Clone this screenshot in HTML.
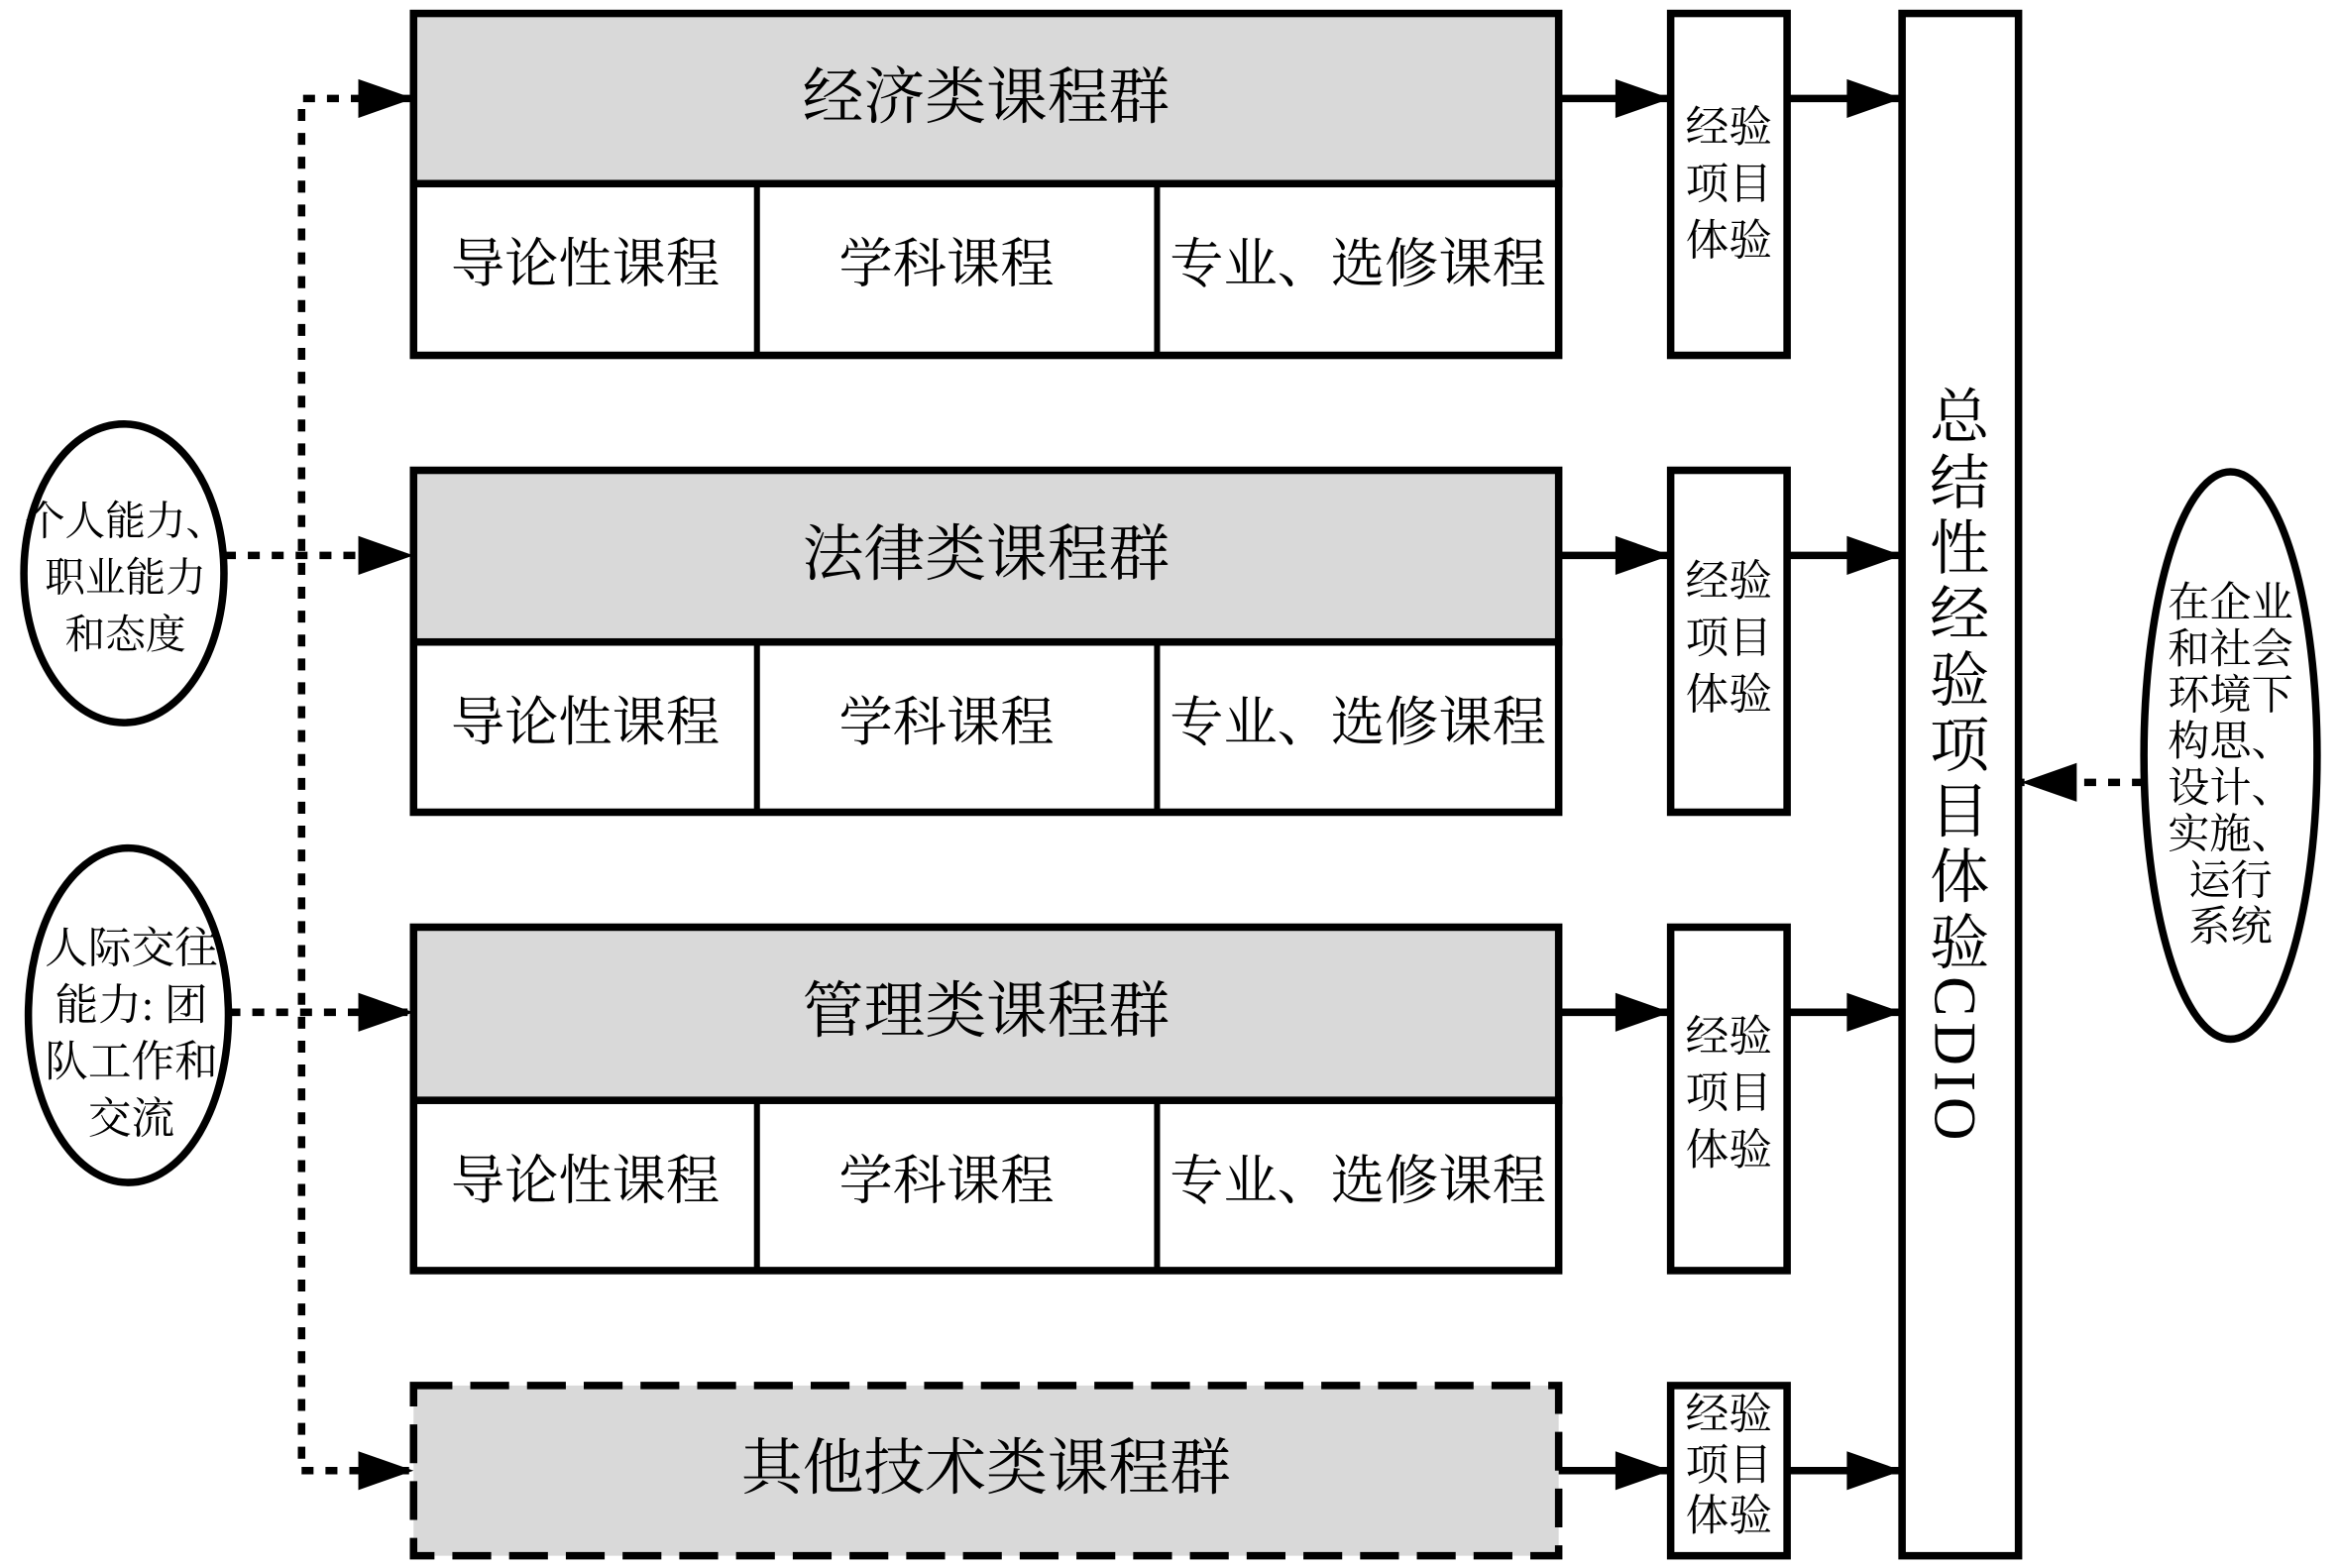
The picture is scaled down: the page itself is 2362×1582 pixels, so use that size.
<!DOCTYPE html>
<html><head><meta charset="utf-8"><style>
html,body{margin:0;padding:0;background:#fff;width:2362px;height:1582px;overflow:hidden}
#w{position:absolute;left:0;top:0;width:1568px;height:1050px;transform:scale(1.50638);transform-origin:0 0;font-family:"Liberation Serif","Noto Serif CJK SC",serif;color:#000}
svg{position:absolute;left:0;top:0}
.t{position:absolute;text-align:center;white-space:nowrap;line-height:1}
</style></head><body><div id="w">
<svg width="1568" height="1050" viewBox="0 0 1568 1050">
<defs><marker id="a" markerWidth="10" markerHeight="10" refX="9" refY="5" orient="auto" markerUnits="userSpaceOnUse" viewBox="0 0 10 10"><path d="M0,0L10,5L0,10z"/></marker></defs>
<g fill="none" stroke="#000" stroke-width="5">
<rect x="277" y="9" width="767" height="114" fill="#d9d9d9"/>
<rect x="277" y="123" width="767" height="115" fill="#fff"/>
<line x1="507" y1="123" x2="507" y2="238" stroke-width="4"/><line x1="775" y1="123" x2="775" y2="238" stroke-width="4"/>
<rect x="277" y="315" width="767" height="115" fill="#d9d9d9"/>
<rect x="277" y="430" width="767" height="114" fill="#fff"/>
<line x1="507" y1="430" x2="507" y2="544" stroke-width="4"/><line x1="775" y1="430" x2="775" y2="544" stroke-width="4"/>
<rect x="277" y="621" width="767" height="116" fill="#d9d9d9"/>
<rect x="277" y="737" width="767" height="114" fill="#fff"/>
<line x1="507" y1="737" x2="507" y2="851" stroke-width="4"/><line x1="775" y1="737" x2="775" y2="851" stroke-width="4"/>
<rect x="277" y="928" width="767" height="114" fill="#d9d9d9" stroke-dasharray="26,12"/>
<rect x="1119" y="9" width="78" height="229" fill="#fff"/>
<rect x="1119" y="315" width="78" height="229" fill="#fff"/>
<rect x="1119" y="621" width="78" height="230" fill="#fff"/>
<rect x="1119" y="928" width="78" height="114" fill="#fff"/>
<rect x="1274" y="9" width="78" height="1033" fill="#fff"/>
<ellipse cx="83" cy="384" rx="67" ry="100" fill="#fff"/>
<ellipse cx="86" cy="680" rx="67" ry="112" fill="#fff"/>
<ellipse cx="1494" cy="506" rx="58" ry="190" fill="#fff"/>
</g>
<g stroke="#000" stroke-width="5" fill="none">
<line x1="1044" y1="66" x2="1117" y2="66"/>
<line x1="1044" y1="372" x2="1117" y2="372"/>
<line x1="1044" y1="678" x2="1117" y2="678"/>
<line x1="1044" y1="985" x2="1117" y2="985"/>
<line x1="1197" y1="66" x2="1272" y2="66"/>
<line x1="1197" y1="372" x2="1272" y2="372"/>
<line x1="1197" y1="678" x2="1272" y2="678"/>
<line x1="1197" y1="985" x2="1272" y2="985"/>
</g>
<g stroke="#000" stroke-width="5" fill="none" stroke-dasharray="8,8" stroke-linecap="butt">
<polyline points="275,66 202,66 202,985 275,985"/>
<line x1="150" y1="372" x2="275" y2="372"/>
<line x1="153" y1="678" x2="275" y2="678"/>
<line x1="1436" y1="524" x2="1354" y2="524"/>
</g>
<g fill="#000">
<path d="M240,53L277,66L240,79z"/><path d="M240,359L277,372L240,385z"/><path d="M240,665L277,678L240,691z"/><path d="M240,972L277,985L240,998z"/>
<path d="M1082,53L1119,66L1082,79z"/><path d="M1082,359L1119,372L1082,385z"/><path d="M1082,665L1119,678L1082,691z"/><path d="M1082,972L1119,985L1082,998z"/>
<path d="M1237,53L1274,66L1237,79z"/><path d="M1237,359L1274,372L1237,385z"/><path d="M1237,665L1274,678L1237,691z"/><path d="M1237,972L1274,985L1237,998z"/>
<path d="M1391,511L1354,524L1391,537z"/>
</g>
</svg>
<div class="t" style="left:277px;width:767px;top:45px;font-size:41px">经济类课程群</div>
<div class="t" style="left:277px;width:767px;top:351px;font-size:41px">法律类课程群</div>
<div class="t" style="left:277px;width:767px;top:657px;font-size:41px">管理类课程群</div>
<div class="t" style="left:277px;width:767px;top:963px;font-size:41px">其他技术类课程群</div>

<div class="t" style="left:277px;width:230px;top:159px;font-size:36px">导论性课程</div>
<div class="t" style="left:507px;width:254px;top:159px;font-size:36px">学科课程</div>
<div class="t" style="left:775px;width:269px;top:159px;font-size:36px">专业、选修课程</div>
<div class="t" style="left:277px;width:230px;top:466px;font-size:36px">导论性课程</div>
<div class="t" style="left:507px;width:254px;top:466px;font-size:36px">学科课程</div>
<div class="t" style="left:775px;width:269px;top:466px;font-size:36px">专业、选修课程</div>
<div class="t" style="left:277px;width:230px;top:773px;font-size:36px">导论性课程</div>
<div class="t" style="left:507px;width:254px;top:773px;font-size:36px">学科课程</div>
<div class="t" style="left:775px;width:269px;top:773px;font-size:36px">专业、选修课程</div>

<div class="t" style="left:1119px;width:78px;top:67px;font-size:29px;line-height:38px">经验<br>项目<br>体验</div>
<div class="t" style="left:1119px;width:78px;top:371px;font-size:29px;line-height:38px">经验<br>项目<br>体验</div>
<div class="t" style="left:1119px;width:78px;top:676px;font-size:29px;line-height:38px">经验<br>项目<br>体验</div>
<div class="t" style="left:1119px;width:78px;top:931px;font-size:29px;line-height:34px">经验<br>项目<br>体验</div>

<div class="t" style="left:1281px;top:258px;font-size:40px;writing-mode:vertical-rl;letter-spacing:4px;width:48px">总结性经验项目体验CDIO</div>

<div class="t" style="left:16px;width:136px;top:330px;font-size:27px;line-height:38px">个人能力、<br>职业能力<br>和态度</div>
<div class="t" style="left:18px;width:140px;top:617px;font-size:29px;line-height:38px">人际交往<br>能力: 团<br>队工作和<br>交流</div>
<div class="t" style="left:1436px;width:116px;top:389px;font-size:28px;line-height:31px">在企业<br>和社会<br>环境下<br>构思、<br>设计、<br>实施、<br>运行<br>系统</div>
</div></body></html>
